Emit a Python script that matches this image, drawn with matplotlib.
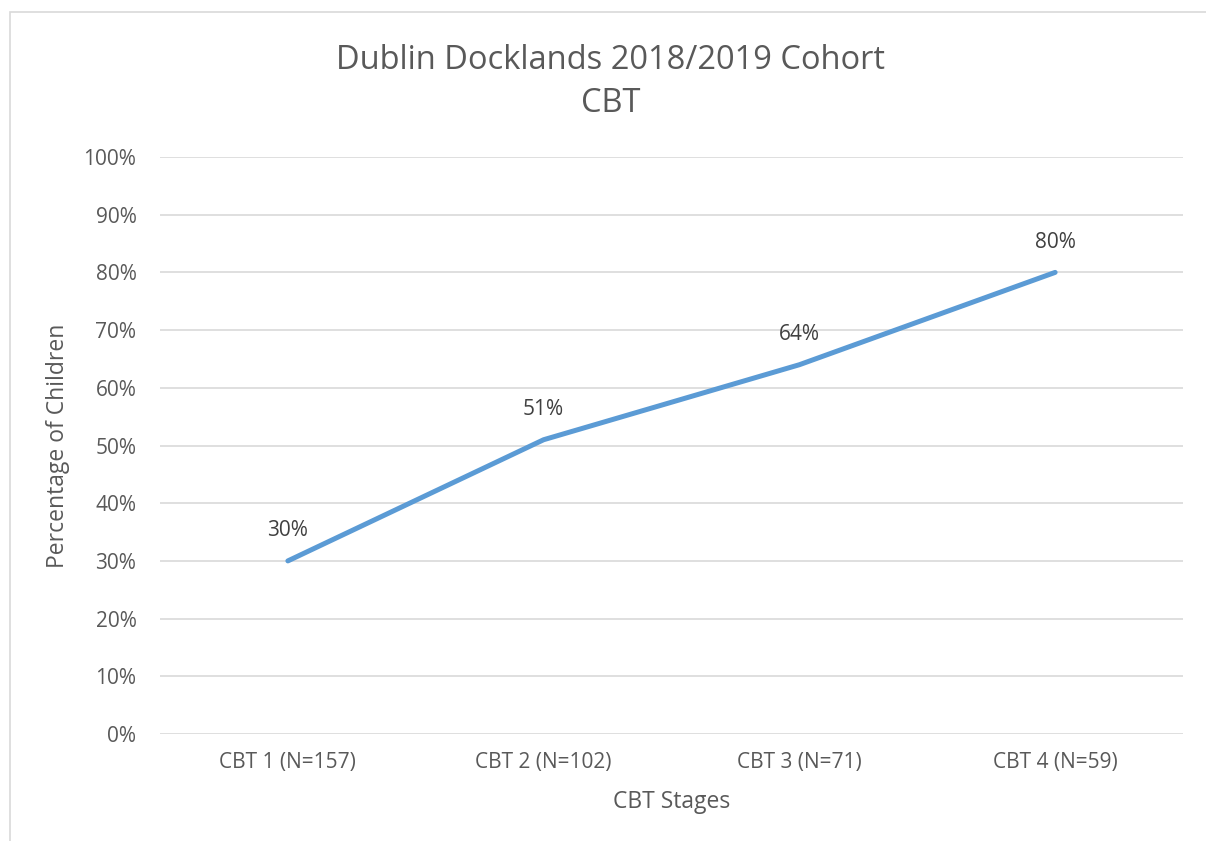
import matplotlib.pyplot as plt
from matplotlib.patches import Rectangle

stages = ["CBT 1 (N=157)", "CBT 2 (N=102)", "CBT 3 (N=71)", "CBT 4 (N=59)"]
percent = [30, 51, 64, 80]
yticks = [0, 10, 20, 30, 40, 50, 60, 70, 80, 90, 100]

plt.rcParams["font.family"] = ["Open Sans", "DejaVu Sans"]
text_col = "#595959"

fig = plt.figure(figsize=(12.06, 8.41), dpi=100)
ax = fig.add_axes([160 / 1206, 1 - 734 / 841, (1183 - 160) / 1206, (734 - 157) / 841])

x = range(len(stages))
ax.plot(x, percent, color="#5B9BD5", linewidth=3.6, solid_capstyle="round", zorder=3)
for xi, v in zip(x, percent):
    ax.annotate(f"{v}%", (xi, v), xytext=(0, 14), textcoords="offset points",
                ha="center", va="bottom", fontsize=15, color="#404040")

ax.set_xlim(-0.5, len(stages) - 0.5)
ax.set_ylim(0, 100)
ax.set_yticks(yticks)
ax.set_yticklabels([f"{t}%" for t in yticks])
ax.set_xticks(list(x))
ax.set_xticklabels(stages)
ax.tick_params(length=0, labelsize=15, labelcolor=text_col)
ax.tick_params(axis="y", pad=17)
ax.tick_params(axis="x", pad=13)
ax.grid(axis="y", color="#D9D9D9", linewidth=1.2)
ax.set_axisbelow(True)
for s in ax.spines.values():
    s.set_visible(False)

ax.set_xlabel("CBT Stages", fontsize=16.5, color=text_col, labelpad=12)
ax.set_ylabel("Percentage of Children", fontsize=16.5, color=text_col)
ax.yaxis.set_label_coords(-0.088, 0.5)

fig.text(611 / 1206, 1 - 82 / 841, "Dublin Docklands 2018/2019 Cohort\nCBT",
         ha="center", va="center", fontsize=23.5, color=text_col, linespacing=1.4)

fig.patches.append(Rectangle((10 / 1206, -0.01), 1.1, 1 - 12 / 841 + 0.01,
                             transform=fig.transFigure, fill=False,
                             edgecolor="#D9D9D9", linewidth=1.2))

fig.savefig("out.png", dpi=100)
